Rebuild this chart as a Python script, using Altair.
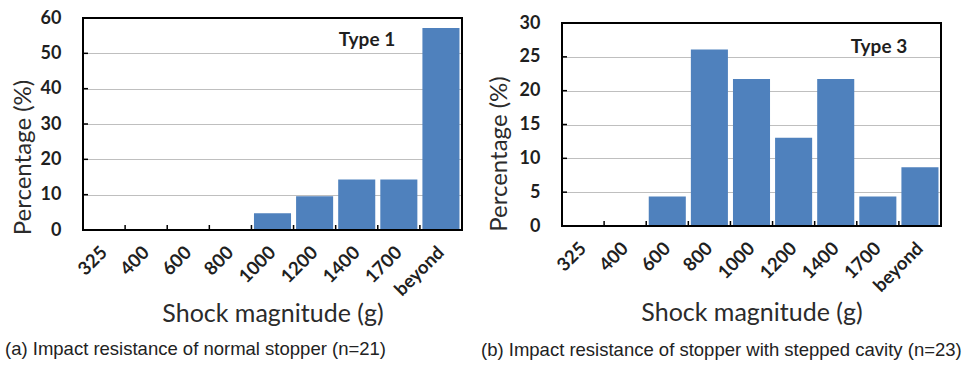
import altair as alt
import pandas as pd

categories = ["325", "400", "600", "800", "1000", "1200", "1400", "1700", "beyond"]
type1_pct = [0, 0, 0, 0, 4.76, 9.52, 14.29, 14.29, 57.14]
type3_pct = [0, 0, 4.35, 26.09, 21.74, 13.04, 21.74, 4.35, 8.70]
panel_labels = ["Type 1", "Type 3"]
captions = [
    "(a) Impact resistance of normal stopper (n=21)",
    "(b) Impact resistance of stopper with stepped cavity (n=23)",
]
y_max = [60, 30]
y_step = [10, 5]

BLUE = "#4f81bd"
FONT = "Lato"
TXT = "#1f1f1f"


def panel(values, ymax, step, label, caption, w, h, top, label_xy, caption_xy,
          ytitle_x, ytitle_y, xtitle_y):
    df = pd.DataFrame({"cat": categories, "pct": values})
    grid_vals = list(range(0, ymax + 1, step))

    x_enc = alt.X(
        "cat:N", sort=categories,
        scale=alt.Scale(paddingInner=0, paddingOuter=0),
        axis=alt.Axis(
            title="Shock magnitude (g)", labelAngle=-45, labelAlign="right",
            labelBaseline="middle", labelFont=FONT, labelFontWeight="bold",
            labelFontSize=18.5, labelColor=TXT, labelPadding=19, ticks=False,
            domain=False, grid=False, titleFont=FONT, titleFontSize=25,
            titleFontWeight="normal", titleColor="#2b2b2b", titleY=xtitle_y,
            titleBaseline="alphabetic", labelOverlap=False,
        ),
    )
    y_enc = alt.Y(
        "pct:Q",
        scale=alt.Scale(domain=[0, ymax], nice=False, zero=True, range=[h, top]),
        axis=alt.Axis(
            values=grid_vals, grid=True, gridColor="#bfbfbf", gridWidth=1,
            ticks=False, domain=False, labelFont=FONT, labelFontWeight="bold",
            labelFontSize=18, labelColor=TXT, labelPadding=22,
            labelOverlap=False,
            title="Percentage (%)", titleFont=FONT, titleFontSize=24,
            titleFontWeight="normal", titleColor="#2b2b2b", titleAngle=270,
            titleX=ytitle_x, titleY=ytitle_y, titleAlign="center",
            titleBaseline="alphabetic",
        ),
    )
    bars = alt.Chart(df).mark_bar(
        color=BLUE, width=alt.RelativeBandSize(0.88)
    ).encode(x=x_enc, y=y_enc)

    yticks = alt.Chart(pd.DataFrame({"pct": grid_vals[1:-1]})).mark_rule(
        color="black", strokeWidth=1.5
    ).encode(y=y_enc, x=alt.value(0), x2=alt.value(5))

    xticks = alt.Chart(pd.DataFrame({"cat": categories[1:]})).mark_rule(
        color="black", strokeWidth=1.5
    ).encode(
        x=alt.X("cat:N", sort=categories, bandPosition=0),
        y=alt.value(h), y2=alt.value(h - 5),
    )

    frame = alt.Chart(pd.DataFrame({"f": [0]})).mark_rect(
        fill="transparent", stroke="black", strokeWidth=2
    ).encode(x=alt.value(0), x2=alt.value(w), y=alt.value(top), y2=alt.value(h))

    tag = alt.Chart(pd.DataFrame({"t": [label]})).mark_text(
        font=FONT, fontWeight="bold", fontSize=19, color=TXT,
        align="center", baseline="middle",
    ).encode(x=alt.value(label_xy[0]), y=alt.value(label_xy[1]), text="t:N")

    cap = alt.Chart(pd.DataFrame({"t": [caption]})).mark_text(
        font="Liberation Sans", fontSize=18.5, color="#222222",
        align="left", baseline="middle",
    ).encode(x=alt.value(caption_xy[0]), y=alt.value(caption_xy[1]), text="t:N")

    return alt.layer(bars, yticks, xticks, frame, tag, cap).properties(
        width=w, height=h
    )


left = panel(type1_pct, y_max[0], y_step[0], panel_labels[0], captions[0],
             379, 212, 0, (284, 22), (-78, 331), -53, 139, 91)
right = panel(type3_pct, y_max[1], y_step[1], panel_labels[1], captions[1],
              379, 208, 5, (317, 29), (-81, 332), -56, 135.5, 94)

chart = alt.hconcat(left, right, spacing=18).properties(
    padding={"left": 5, "top": 9, "right": 0, "bottom": 0},
    background="white",
).configure_view(strokeWidth=0)

chart.save("out.html", embed_options={"renderer": "svg", "actions": False})
